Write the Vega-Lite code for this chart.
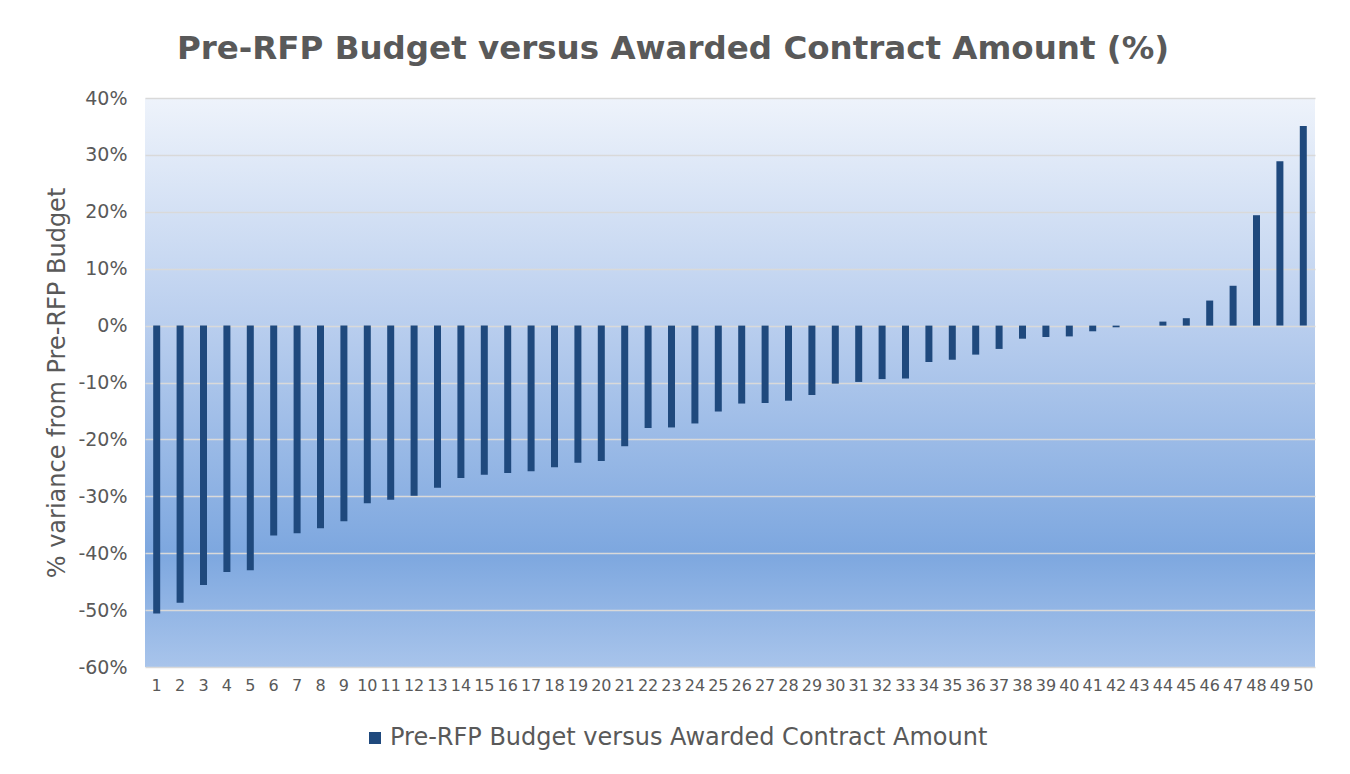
{
  "$schema": "https://vega.github.io/schema/vega-lite/v6.json",
  "autosize": "none",
  "width": 1170,
  "height": 569,
  "padding": {"left": 145, "top": 98, "right": 35, "bottom": 107},
  "background": "white",
  "config": {
    "font": "DejaVu Sans",
    "view": {
      "stroke": null,
      "fill": {
        "gradient": "linear",
        "x1": 0, "y1": 0, "x2": 0, "y2": 1,
        "stops": [
          {"offset": 0, "color": "#EEF3FB"},
          {"offset": 0.4, "color": "#B9CEEE"},
          {"offset": 0.8, "color": "#7DA7DF"},
          {"offset": 1, "color": "#A8C4EB"}
        ]
      }
    }
  },
  "title": {
    "text": "Pre-RFP Budget versus Awarded Contract Amount  (%)",
    "font": "DejaVu Sans",
    "fontSize": 32.5,
    "fontWeight": "bold",
    "color": "#595959",
    "anchor": "middle",
    "frame": "group",
    "dx": -57,
    "baseline": "alphabetic",
    "offset": -2
  },
  "data": {
    "values": [
      {"id": 1, "variance": -0.506},
      {"id": 2, "variance": -0.487},
      {"id": 3, "variance": -0.456},
      {"id": 4, "variance": -0.433},
      {"id": 5, "variance": -0.430},
      {"id": 6, "variance": -0.369},
      {"id": 7, "variance": -0.365},
      {"id": 8, "variance": -0.356},
      {"id": 9, "variance": -0.344},
      {"id": 10, "variance": -0.312},
      {"id": 11, "variance": -0.306},
      {"id": 12, "variance": -0.299},
      {"id": 13, "variance": -0.285},
      {"id": 14, "variance": -0.268},
      {"id": 15, "variance": -0.262},
      {"id": 16, "variance": -0.259},
      {"id": 17, "variance": -0.256},
      {"id": 18, "variance": -0.249},
      {"id": 19, "variance": -0.241},
      {"id": 20, "variance": -0.238},
      {"id": 21, "variance": -0.212},
      {"id": 22, "variance": -0.180},
      {"id": 23, "variance": -0.179},
      {"id": 24, "variance": -0.172},
      {"id": 25, "variance": -0.151},
      {"id": 26, "variance": -0.137},
      {"id": 27, "variance": -0.136},
      {"id": 28, "variance": -0.132},
      {"id": 29, "variance": -0.122},
      {"id": 30, "variance": -0.102},
      {"id": 31, "variance": -0.099},
      {"id": 32, "variance": -0.094},
      {"id": 33, "variance": -0.093},
      {"id": 34, "variance": -0.064},
      {"id": 35, "variance": -0.060},
      {"id": 36, "variance": -0.051},
      {"id": 37, "variance": -0.041},
      {"id": 38, "variance": -0.023},
      {"id": 39, "variance": -0.020},
      {"id": 40, "variance": -0.019},
      {"id": 41, "variance": -0.010},
      {"id": 42, "variance": -0.003},
      {"id": 43, "variance": 0.0},
      {"id": 44, "variance": 0.007},
      {"id": 45, "variance": 0.013},
      {"id": 46, "variance": 0.044},
      {"id": 47, "variance": 0.070},
      {"id": 48, "variance": 0.194},
      {"id": 49, "variance": 0.289},
      {"id": 50, "variance": 0.351}
    ]
  },
  "mark": {"type": "bar", "size": 7},
  "encoding": {
    "x": {
      "field": "id",
      "type": "ordinal",
      "scale": {"paddingInner": 0, "paddingOuter": 0},
      "axis": {
        "title": null,
        "labelAngle": 0,
        "labelFontSize": 16,
        "labelColor": "#595959",
        "labelPadding": 10,
        "labelOverlap": false,
        "ticks": false,
        "domain": false,
        "grid": false
      }
    },
    "y": {
      "field": "variance",
      "type": "quantitative",
      "scale": {"domain": [-0.6, 0.4], "nice": false, "zero": false},
      "axis": {
        "values": [-0.6, -0.5, -0.4, -0.3, -0.2, -0.1, 0, 0.1, 0.2, 0.3, 0.4],
        "format": ".0%",
        "labelExpr": "replace(datum.label, '\u2212', '-')",
        "labelFontSize": 19,
        "labelColor": "#595959",
        "labelPadding": 18,
        "ticks": false,
        "domain": false,
        "grid": true,
        "gridColor": "#D9D9D9",
        "gridWidth": 1.5,
        "title": "% variance from Pre-RFP Budget",
        "titleFontSize": 24,
        "titleFontWeight": "normal",
        "titleColor": "#595959",
        "titleAngle": -90,
        "titleAlign": "center",
        "titleBaseline": "middle",
        "titleX": -88,
        "titleY": 284.5
      }
    },
    "color": {
      "datum": "Pre-RFP Budget versus Awarded Contract Amount",
      "scale": {"range": ["#1F497D"]},
      "legend": {
        "title": null,
        "orient": "none",
        "legendX": 218,
        "legendY": 628,
        "padding": 0,
        "symbolType": "M-1,-1H1V1H-1Z",
        "symbolSize": 144,
        "symbolStrokeWidth": 0,
        "labelFontSize": 24,
        "labelColor": "#595959",
        "labelLimit": 900,
        "labelOffset": 3
      }
    }
  }
}
